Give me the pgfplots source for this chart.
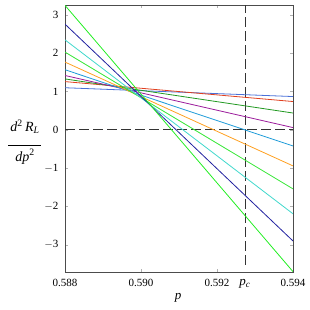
\documentclass[border=0pt]{standalone}
\usepackage{pgfplots}
\pgfplotsset{compat=1.18}
\usepackage{fontspec}
\setmainfont{Liberation Serif}
\definecolor{cLime}{HTML}{22EE22}
\definecolor{cNavy}{HTML}{2222A0}
\definecolor{cTurq}{HTML}{40D8CC}
\definecolor{cGreen}{HTML}{33E633}
\definecolor{cOrange}{HTML}{FFA020}
\definecolor{cSky}{HTML}{1E9BD8}
\definecolor{cPurple}{HTML}{9B1B9B}
\definecolor{cDGreen}{HTML}{229922}
\definecolor{cRed}{HTML}{E04020}
\definecolor{cRoyal}{HTML}{4A70D8}
\begin{document}
\begin{tikzpicture}
\begin{axis}[
  at={(0,0)}, anchor=south west,
  scale only axis, width=228pt, height=267pt,
  xmin=0.588, xmax=0.594, ymin=-3.71, ymax=3.26,
  xtick={0.588,0.590,0.592,0.594},
  xticklabels={0.588,0.590,0.592,0.594},
  ytick={-3,-2,-1,0,1,2,3},
  yticklabels={$-$3,$-$2,$-$1,0,1,2,3},
  tick label style={font=\fontsize{11}{12}\selectfont},
  /pgf/number format/assume math mode=true,
  tick style={gray!60, thin},
  major tick length=3pt,
  axis line style={black!70, line width=0.8pt},
  xticklabel style={yshift=-4pt},
  yticklabel style={xshift=-3pt},
  clip=true,
]
\draw[black!80, line width=1pt, dash pattern=on 10pt off 4pt] (axis cs:0.588,0) -- (axis cs:0.594,0);
\draw[black!80, line width=1pt, dash pattern=on 10pt off 4pt] (axis cs:0.592746,-3.52) -- (axis cs:0.592746,3.26);
\addplot[cRoyal, line width=0.8pt] coordinates {(0.588,1.10) (0.594,0.87)};
\addplot[cRed, line width=0.8pt] coordinates {(0.588,1.26) (0.594,0.74)};
\addplot[cDGreen, line width=0.8pt] coordinates {(0.588,1.33) (0.594,0.44)};
\addplot[cPurple, line width=0.8pt] coordinates {(0.588,1.42) (0.594,0.06)};
\addplot[cSky, line width=0.8pt] coordinates {(0.588,1.57) (0.594,-0.42)};
\addplot[cOrange, line width=0.8pt] coordinates {(0.588,1.77) (0.594,-0.94)};
\addplot[cGreen, line width=0.8pt] coordinates {(0.588,2.03) (0.594,-1.54)};
\addplot[cTurq, line width=0.8pt] coordinates {(0.588,2.35) (0.594,-2.19)};
\addplot[cNavy, line width=0.8pt] coordinates {(0.588,2.76) (0.594,-2.90)};
\addplot[cLime, line width=0.8pt] coordinates {(0.588,3.25) (0.594,-3.70)};
\end{axis}
% labels (positions in pt relative to axis lower-left)
\node[font=\fontsize{13}{15}\selectfont\itshape] at (113pt,-26pt) {p};
\node[font=\fontsize{13}{15}\selectfont] at (180pt,-12pt) {\textit{p}\textsubscript{\textit{c}}};
\node[font=\fontsize{14}{16}\selectfont, inner sep=0pt] at (-40pt,129pt) {%
  \begin{tabular}{@{}c@{}}
  \textit{d}\textsuperscript{2}\,\textit{R}\textsubscript{\textit{L}}\\[-2pt]
  \rule{33pt}{0.5pt}\\[-1pt]
  \textit{dp}\textsuperscript{2}
  \end{tabular}};
\pgfresetboundingbox
\path[use as bounding box] (-65pt,-38pt) rectangle (245pt,272pt);
\end{tikzpicture}
\end{document}
